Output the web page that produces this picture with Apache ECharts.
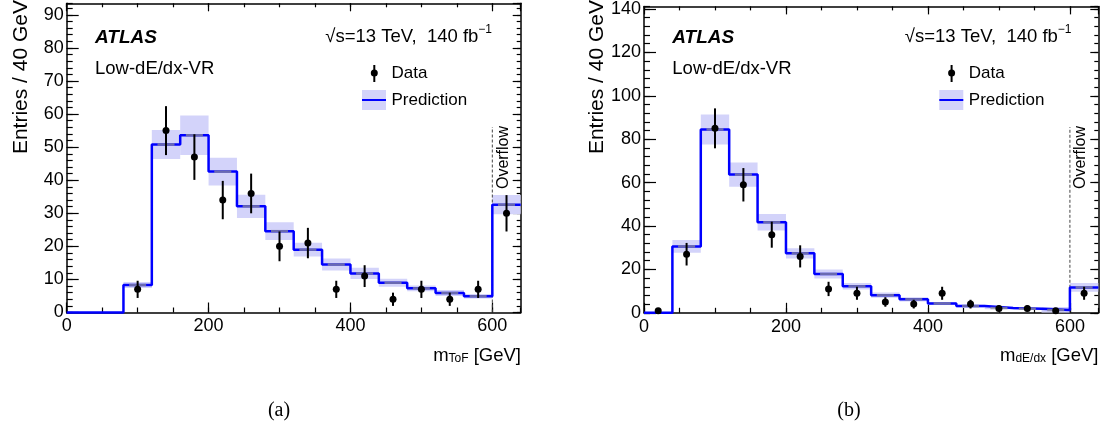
<!DOCTYPE html>
<html>
<head>
<meta charset="utf-8">
<script src="https://cdn.jsdelivr.net/npm/echarts@6/dist/echarts.min.js"></script>
<style>
html,body{margin:0;padding:0;background:#fff;}
#chart{width:1108px;height:434px;}
</style>
</head>
<body>
<div id="chart"></div>
<script>
// ---------------- data ----------------
const binEdges = [0, 40, 80, 120, 160, 200, 240, 280, 320, 360, 400, 440, 480, 520, 560, 600, 640];
const overflowEdge = 600;

// (a) m_ToF
const predA = [0, 0, 8.3, 50.8, 53.6, 42.6, 32.1, 24.6, 19.0, 14.5, 11.8, 9.0, 7.3, 5.9, 4.9, 32.6];
const bandA = [0, 0, 0.9, 4.4, 6.0, 4.2, 3.5, 2.7, 2.1, 1.8, 1.7, 1.2, 0.9, 0.9, 0.7, 2.9];
const dataA = [null, null, 7, 55, 47, 34, 36, 20, 21, 7, 11, 4, 7, 4, 7, 30];
const errA  = [0, 0, 2.6, 7.4, 6.9, 5.8, 6.0, 4.5, 4.6, 2.6, 3.3, 2.0, 2.6, 2.0, 2.6, 5.5];

// (b) m_dE/dx
const predB = [0, 30.6, 84.5, 63.7, 41.7, 27.4, 17.9, 12.2, 8.1, 6.2, 4.3, 3.1, 2.2, 1.9, 1.3, 11.7];
const bandB = [0, 2.9, 6.9, 5.6, 3.8, 2.4, 2.1, 1.5, 1.2, 1.0, 0.7, 0.6, 0.6, 0.5, 1.4, 2.0];
const dataB = [1, 27, 85, 59, 36, 26, 11, 9, 5, 4, 9, 4, 2, 2, 1, 9];
const errB  = [1, 5.2, 9.2, 7.7, 6.0, 5.1, 3.3, 3.0, 2.2, 2.0, 3.0, 2.0, 1.4, 1.4, 1.0, 3.0];

// axis ranges / tick steps
const xMax = 640;
const xMajorStep = 200, xMinorStep = 50;
const yMaxA = 93.5, yMajorA = 10, yMinorA = 2;
const yMaxB = 141.2, yMajorB = 20, yMinorB = 4;

// ---------------- helpers ----------------
const FONT = "'Liberation Sans', Arial, Helvetica, sans-serif";
const BAND_COLOR = '#d3d3fa';
const BLUE = '#0000ff';

function bandItems(pred, band) {
  const out = [];
  for (let i = 0; i < pred.length; i++) {
    if (band[i] > 0) out.push([binEdges[i], binEdges[i + 1], pred[i], band[i]]);
  }
  return out;
}
function lineItems(pred) {
  const out = pred.map((v, i) => [binEdges[i], v]);
  out.push([binEdges[binEdges.length - 1], pred[pred.length - 1]]);
  return out;
}
function dashItems(pred) {
  const out = [];
  for (let i = 0; i < pred.length; i++) {
    if (pred[i] > 0) out.push([(binEdges[i] + binEdges[i + 1]) / 2, pred[i]]);
  }
  return out;
}
function dataItems(data, err) {
  const out = [];
  for (let i = 0; i < data.length; i++) {
    if (data[i] !== null) out.push([(binEdges[i] + binEdges[i + 1]) / 2, data[i], err[i]]);
  }
  return out;
}

function renderBand(params, api) {
  const p1 = api.coord([api.value(0), api.value(2) + api.value(3)]);
  const p2 = api.coord([api.value(1), Math.max(0, api.value(2) - api.value(3))]);
  return {
    type: 'rect',
    shape: { x: p1[0], y: p1[1], width: p2[0] - p1[0], height: p2[1] - p1[1] },
    style: { fill: BAND_COLOR }
  };
}
function renderDash(params, api) {
  const c = api.value(0), v = api.value(1);
  const a = api.coord([c - 12, v]), b = api.coord([c + 12, v]);
  return {
    type: 'line',
    shape: { x1: a[0], y1: a[1], x2: b[0], y2: b[1] },
    style: { stroke: 'rgba(140,140,150,0.75)', lineWidth: 2.5 }
  };
}
function renderData(params, api) {
  const x = api.value(0), y = api.value(1), e = api.value(2);
  const p = api.coord([x, y]);
  const t = api.coord([x, y + e]);
  const b = api.coord([x, Math.max(0, y - e)]);
  return {
    type: 'group',
    children: [
      { type: 'line', shape: { x1: p[0], y1: t[1], x2: p[0], y2: b[1] }, style: { stroke: '#000', lineWidth: 2 } },
      { type: 'circle', shape: { cx: p[0], cy: p[1], r: 3.5 }, style: { fill: '#000' } }
    ]
  };
}
function renderOverflow(params, api) {
  const b = api.coord([api.value(0), 0]);
  return {
    type: 'line',
    shape: { x1: b[0], y1: b[1], x2: b[0], y2: 127 },
    style: { stroke: '#444', lineWidth: 1, lineDash: [3, 2] }
  };
}

function xAxes(gi) {
  const base = { type: 'value', gridIndex: gi, min: 0, max: xMax, splitLine: { show: false } };
  return [
    Object.assign({}, base, {
      position: 'bottom', interval: xMajorStep,
      axisLine: { show: true, onZero: false, lineStyle: { color: '#000', width: 1.5 } },
      axisTick: { show: true, inside: true, length: 10, lineStyle: { color: '#000', width: 1.2 } },
      axisLabel: { show: true, color: '#000', fontSize: 18, fontFamily: FONT, margin: 5, showMaxLabel: false }
    }),
    Object.assign({}, base, {
      position: 'bottom', interval: xMinorStep,
      axisLine: { show: false, onZero: false },
      axisTick: { show: true, inside: true, length: 5, lineStyle: { color: '#000', width: 1.2 } },
      axisLabel: { show: false }
    }),
    Object.assign({}, base, {
      position: 'top', interval: xMajorStep,
      axisLine: { show: true, onZero: false, lineStyle: { color: '#000', width: 1.5 } },
      axisTick: { show: true, inside: true, length: 8, lineStyle: { color: '#000', width: 1.2 } },
      axisLabel: { show: false }
    }),
    Object.assign({}, base, {
      position: 'top', interval: xMinorStep,
      axisLine: { show: false, onZero: false },
      axisTick: { show: true, inside: true, length: 4, lineStyle: { color: '#000', width: 1.2 } },
      axisLabel: { show: false }
    })
  ];
}
function yAxes(gi, ymax, major, minor) {
  const base = { type: 'value', gridIndex: gi, min: 0, max: ymax, splitLine: { show: false } };
  return [
    Object.assign({}, base, {
      position: 'left', interval: major,
      axisLine: { show: true, onZero: false, lineStyle: { color: '#000', width: 1.5 } },
      axisTick: { show: true, inside: true, length: 12, lineStyle: { color: '#000', width: 1.2 } },
      axisLabel: { show: true, color: '#000', fontSize: 18, fontFamily: FONT, margin: 3, showMaxLabel: false }
    }),
    Object.assign({}, base, {
      position: 'left', interval: minor,
      axisLine: { show: false, onZero: false },
      axisTick: { show: true, inside: true, length: 6, lineStyle: { color: '#000', width: 1.2 } },
      axisLabel: { show: false }
    }),
    Object.assign({}, base, {
      position: 'right', interval: major,
      axisLine: { show: true, onZero: false, lineStyle: { color: '#000', width: 1.5 } },
      axisTick: { show: true, inside: true, length: 8, lineStyle: { color: '#000', width: 1.2 } },
      axisLabel: { show: false }
    }),
    Object.assign({}, base, {
      position: 'right', interval: minor,
      axisLine: { show: false, onZero: false },
      axisTick: { show: true, inside: true, length: 4, lineStyle: { color: '#000', width: 1.2 } },
      axisLabel: { show: false }
    })
  ];
}

function panelSeries(gi, pred, band, data, err) {
  const xi = gi * 4, yi = gi * 4;
  return [
    { type: 'custom', xAxisIndex: xi, yAxisIndex: yi, renderItem: renderBand, data: bandItems(pred, band), z: 1, clip: true, silent: true },
    { type: 'custom', xAxisIndex: xi, yAxisIndex: yi, renderItem: renderOverflow, data: [[overflowEdge]], z: 2, silent: true },
    { type: 'line', xAxisIndex: xi, yAxisIndex: yi, data: lineItems(pred), step: 'end', symbol: 'none', clip: false,
      lineStyle: { color: BLUE, width: 2.5 }, z: 3, silent: true },
    { type: 'custom', xAxisIndex: xi, yAxisIndex: yi, renderItem: renderDash, data: dashItems(pred), z: 4, silent: true },
    { type: 'custom', xAxisIndex: xi, yAxisIndex: yi, renderItem: renderData, data: dataItems(data, err), z: 5, silent: true }
  ];
}

function panelGraphics(dx, yTitleX, xTitleSub, xTitleRight, sRight, ovX, caption, capX) {
  return [
    { type: 'text', x: yTitleX, y: 0, rotation: Math.PI / 2,
      style: { text: 'Entries / 40 GeV', font: '21px ' + FONT, fill: '#000', align: 'right', verticalAlign: 'middle' } },
    { type: 'text', x: 95 + dx, y: 38,
      style: { text: 'ATLAS', font: 'italic bold 19px ' + FONT, fill: '#000', align: 'left', verticalAlign: 'middle' } },
    { type: 'text', x: 95 + dx, y: 69,
      style: { text: 'Low-dE/dx-VR', font: '18.5px ' + FONT, fill: '#000', align: 'left', verticalAlign: 'middle' } },
    { type: 'text', x: sRight, y: 35,
      style: { text: '{t|√s=13 TeV,  140 fb}{u|−1}', align: 'right', verticalAlign: 'middle',
        rich: { t: { font: '18.5px ' + FONT, fill: '#000', lineHeight: 23, verticalAlign: 'bottom' },
                u: { font: '12px ' + FONT, fill: '#000', lineHeight: 12, verticalAlign: 'top' } } } },
    // legend: Data
    { type: 'line', shape: { x1: 374.3 + dx, y1: 65, x2: 374.3 + dx, y2: 82 }, style: { stroke: '#000', lineWidth: 2 } },
    { type: 'circle', shape: { cx: 374.3 + dx, cy: 73, r: 3.5 }, style: { fill: '#000' } },
    { type: 'text', x: 391.5 + dx, y: 73,
      style: { text: 'Data', font: '17px ' + FONT, fill: '#000', align: 'left', verticalAlign: 'middle' } },
    // legend: Prediction
    { type: 'rect', shape: { x: 362 + dx, y: 90, width: 24, height: 20 }, style: { fill: BAND_COLOR } },
    { type: 'line', shape: { x1: 362 + dx, y1: 100, x2: 386 + dx, y2: 100 }, style: { stroke: BLUE, lineWidth: 2 } },
    { type: 'text', x: 391.5 + dx, y: 100,
      style: { text: 'Prediction', font: '17px ' + FONT, fill: '#000', align: 'left', verticalAlign: 'middle' } },
    // Overflow
    { type: 'text', x: ovX, y: 157.5, rotation: Math.PI / 2,
      style: { text: 'Overflow', font: '16px ' + FONT, fill: '#000', align: 'center', verticalAlign: 'middle' } },
    // x title
    { type: 'text', x: xTitleRight, y: 346,
      style: { text: '{m|m}{s|' + xTitleSub + '}{g| [GeV]}', align: 'right', verticalAlign: 'top',
        rich: { m: { font: '18.5px ' + FONT, fill: '#000', lineHeight: 19, verticalAlign: 'top' },
                s: { font: '12px ' + FONT, fill: '#000', lineHeight: 12, padding: [9, 0, 0, 0], verticalAlign: 'bottom' },
                g: { font: '18.5px ' + FONT, fill: '#000', lineHeight: 19, verticalAlign: 'top' } } } },
    // caption
    { type: 'text', x: capX, y: 411,
      style: { text: caption, font: "20px 'Liberation Serif', 'DejaVu Serif', serif", fill: '#000', align: 'center', verticalAlign: 'middle' } }
  ];
}

const chart = echarts.init(document.getElementById('chart'), null, { renderer: 'canvas' });
const option = {
  animation: false,
  backgroundColor: '#fff',
  grid: [
    { left: 66.7, top: 3.3, width: 454, height: 309.2 },
    { left: 644, top: 4.3, width: 454.3, height: 308.5 }
  ],
  xAxis: xAxes(0).concat(xAxes(1)),
  yAxis: yAxes(0, yMaxA, yMajorA, yMinorA).concat(yAxes(1, yMaxB, yMajorB, yMinorB)),
  series: panelSeries(0, predA, bandA, dataA, errA).concat(panelSeries(1, predB, bandB, dataB, errB)),
  graphic: panelGraphics(0, 21, 'ToF', 521, 492, 503.5, '(a)', 279)
    .concat(panelGraphics(577.3, 597, 'dE/dx', 1098.5, 1071.5, 1080.5, '(b)', 849))
};
chart.setOption(option);
</script>
</body>
</html>
